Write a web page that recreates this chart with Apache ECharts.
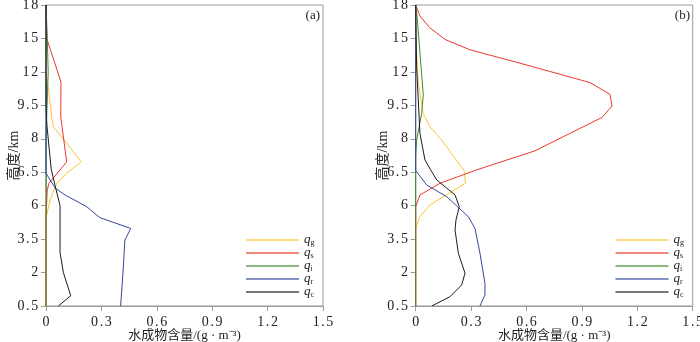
<!DOCTYPE html>
<html><head><meta charset="utf-8">
<script src="https://cdn.jsdelivr.net/npm/echarts@6/dist/echarts.min.js"></script>
<style>html,body{margin:0;padding:0;background:#fff}#c{width:700px;height:342px}</style>
</head><body><div id="c"></div>
<script>
// y axis: evenly spaced tick positions (0..9) carrying these labels (km)
const yTickLabels = ['0.5','2','3.5','6','6.5','8','9.5','12','15','18'];
const xTicks = [0, 0.3, 0.6, 0.9, 1.2, 1.5];
const seriesNames = ['qg','qs','qi','qr','qc'];
const subscripts = ['g','s','i','r','c'];
const colors = ['#FCC630','#E8392B','#3F8A2C','#33479E','#1c1c1c'];
const panelTags = ['(a)','(b)'];
// data points: [content g/m3, y-axis position]
const qgA = [[0,9],[0.003,6.85],[0.018,6.26],[0.031,5.66],[0.04,5.36],[0.112,4.87],[0.19,4.31],[0.112,3.97],[0.058,3.67],[0.022,3.17],[0,2.62],[0,0]];
const qsA = [[0,9],[0.004,8],[0.081,6.7],[0.08,5.65],[0.112,4.31],[0.016,3.67],[0.007,3.47],[0,2.67],[0,0]];
const qiA = [[0,9],[0.007,8],[0.012,7],[0.006,6],[0,5.2],[0,0]];
const qrA = [[0,9],[0,3.97],[0.049,3.53],[0.103,3.32],[0.22,2.97],[0.292,2.64],[0.459,2.32],[0.427,1.97],[0.418,1.08],[0.404,0]];
const qcA = [[0,9],[0,6],[0.005,5.4],[0.028,4.1],[0.049,3.6],[0.076,3.0],[0.076,1.6],[0.094,1.0],[0.134,0.31],[0.067,0]];
const qgB = [[0,9],[0,8],[0.014,6.66],[0.041,5.75],[0.077,5.36],[0.141,4.96],[0.262,4.05],[0.27,3.67],[0.077,3.02],[0.023,2.67],[0,2.32],[0,0]];
const qsB = [[0,9],[0.023,8.67],[0.074,8.33],[0.159,7.97],[0.294,7.66],[0.565,7.26],[0.944,6.68],[1.052,6.33],[1.063,5.98],[1.01,5.64],[0.835,5.16],[0.646,4.64],[0.33,4.07],[0.132,3.67],[0.023,3.32],[0,2.97],[0,0]];
const qiB = [[0,9],[0.009,8.55],[0.041,6.31],[0.032,5.75],[0.005,4.96],[0,4.5],[0,0]];
const qrB = [[0,9],[0,4.05],[0.059,3.62],[0.168,3.27],[0.285,2.67],[0.321,2.32],[0.348,1.58],[0.375,0.68],[0.375,0.33],[0.348,0]];
const qcB = [[0,9],[0.005,7.15],[0.023,5.16],[0.05,4.37],[0.081,4.07],[0.114,3.77],[0.213,3.32],[0.236,2.97],[0.218,2.57],[0.213,2.27],[0.231,1.58],[0.267,0.98],[0.249,0.63],[0.186,0.28],[0.087,0]];
const panels = [[qgA,qsA,qiA,qrA,qcA],[qgB,qsB,qiB,qrB,qcB]];

const serif = "'Liberation Serif','Noto Sans CJK SC',serif";
const axisGray = '#9a9a9a';
const spaced = s => s.split('').map(c => '{d|' + c + '}').join('');
const tickRich = {d:{fontFamily:serif, fontSize:14, color:'#222', padding:[0,0.8,0,0.8]}};
const grids = [
  {left:46, right:377, top:5, bottom:36},
  {left:415.7, right:7.3, top:5, bottom:36}
];
const option = {
  animation:false,
  grid: grids.map(g => Object.assign({show:true, borderColor:axisGray, borderWidth:1, backgroundColor:'transparent', containLabel:false, outerBoundsMode:'none'}, g)),
  xAxis: grids.map((g,i) => ({
    gridIndex:i, type:'value', min:0, max:1.5, interval:0.3,
    axisLine:{show:true, lineStyle:{color:axisGray}},
    axisTick:{show:true, length:5, lineStyle:{color:axisGray}},
    splitLine:{show:false},
    axisLabel:{color:'#222', fontFamily:serif, fontSize:14, margin:9, rich:tickRich,
      formatter: v => { const t = xTicks.find(x => Math.abs(x - v) < 1e-6); return t === undefined ? '' : spaced(String(t)); }},
    name:'水成物含量/(g · m⁻³)', nameLocation:'middle', nameGap:23, nameMoveOverlap:false,
    nameTextStyle:{color:'#222', fontFamily:serif, fontSize:13}
  })),
  yAxis: grids.map((g,i) => ({
    gridIndex:i, type:'value', min:0, max:9, interval:1,
    axisLine:{show:true, lineStyle:{color:axisGray}},
    axisTick:{show:true, length:5, lineStyle:{color:axisGray}},
    splitLine:{show:false},
    axisLabel:{color:'#222', fontFamily:serif, fontSize:14, margin:7, rich:tickRich,
      formatter: v => spaced(yTickLabels[Math.round(v)] || '')},
    name:'高度/km', nameLocation:'middle', nameRotate:90, nameGap:25, nameMoveOverlap:false,
    nameTextStyle:{color:'#222', fontFamily:serif, fontSize:14}
  })),
  legend: [
    {left:246, top:233},
    {left:615.5, top:233}
  ].map(p => Object.assign({
    orient:'vertical', data:seriesNames, icon:'rect', itemWidth:53, itemHeight:2, itemGap:-1,
    padding:0,
    itemStyle:{opacity:0.6},
    formatter: n => '{q|q}{s|' + subscripts[seriesNames.indexOf(n)] + '}',
    textStyle:{color:'#222', lineHeight:13, rich:{
      q:{fontFamily:serif, fontStyle:'italic', fontSize:13, color:'#222', lineHeight:13},
      s:{fontFamily:serif, fontSize:8, color:'#222', lineHeight:13, padding:[6,0,0,0]}
    }}
  }, p)),
  graphic: panelTags.map((t,i) => ({
    type:'text', right: i===0 ? 380 : 10, top:9,
    style:{text:t, fontFamily:serif, fontSize:13, fill:'#222'}
  })),
  series: []
};
panels.forEach((arrs, pi) => {
  arrs.forEach((d, si) => {
    option.series.push({
      name:seriesNames[si], type:'line', xAxisIndex:pi, yAxisIndex:pi,
      data:d, symbol:'none', showSymbol:false, smooth:false,
      lineStyle:{color:colors[si], width:1}, itemStyle:{color:colors[si]}, z:3+si
    });
  });
});
const chart = echarts.init(document.getElementById('c'), null, {renderer:'canvas'});
chart.setOption(option);
</script></body></html>
